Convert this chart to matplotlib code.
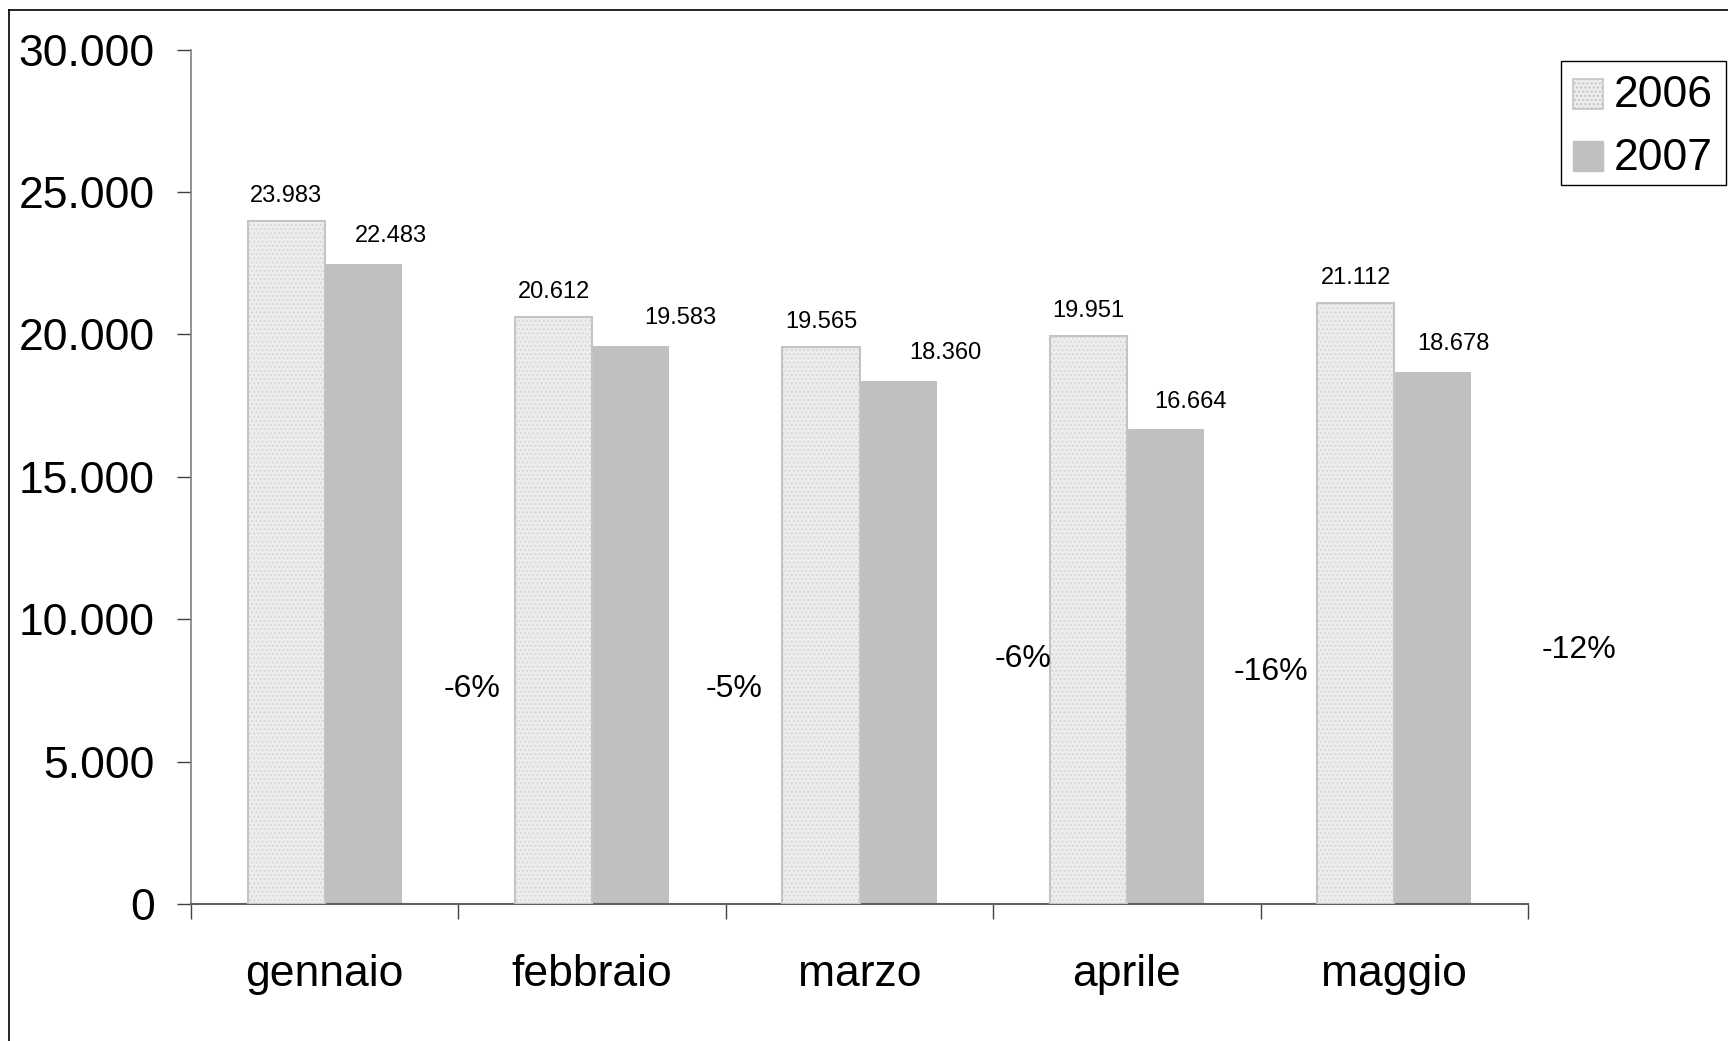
import matplotlib
matplotlib.use("Agg")
import matplotlib.pyplot as plt
from matplotlib.lines import Line2D
from matplotlib.patches import Rectangle
import numpy as np

plt.rcParams['font.family'] = ['Liberation Sans', 'DejaVu Sans']

# ---- data ----
categories = ["gennaio", "febbraio", "marzo", "aprile", "maggio"]
values_2006 = [23983, 20612, 19565, 19951, 21112]
values_2007 = [22483, 19583, 18360, 16664, 18678]
pct_change = [-6, -5, -6, -16, -12]
series_names = ["2006", "2007"]
yticks = [0, 5000, 10000, 15000, 20000, 25000, 30000]

# ---- layout / style ----
W, H, DPI = 1728, 1041, 100
fig = plt.figure(figsize=(W / DPI, H / DPI), dpi=DPI)
ax = fig.add_axes([191 / W, 1 - 904 / H, (1528 - 191) / W, (904 - 49.6) / H])

x = np.arange(len(categories))
bw = 0.288
c06_face = '#ededed'
c06_edge = '#c4c4c4'
c06_hatch = '#d8d8d8'
c07 = '#c0c0c0'

ax.bar(x - bw / 2, values_2006, bw, color=c06_face, edgecolor=c06_hatch,
       hatch='....', linewidth=0, zorder=2)
ax.bar(x - bw / 2, values_2006, bw, facecolor='none', edgecolor=c06_edge,
       linewidth=1.5, zorder=3)
ax.bar(x + bw / 2, values_2007, bw, color=c07, linewidth=0, zorder=2)

ax.set_xlim(-0.5, len(categories) - 0.5)
ax.set_ylim(0, 30000)
ax.set_yticks(yticks)
ax.set_yticklabels([f"{v:,}".replace(",", ".") for v in yticks], fontsize=32)
ax.set_xticks(np.arange(len(categories) + 1) - 0.5)
ax.set_xticklabels([])
ax.set_xticks(x, minor=True)
ax.set_xticklabels(categories, minor=True, fontsize=32)
ax.tick_params(axis='x', which='minor', length=0, pad=36)
ax.tick_params(axis='x', which='major', length=11, width=1, color='#404040', direction='out')
ax.tick_params(axis='y', length=10, width=1, color='#404040', direction='out', pad=16)

for s in ['top', 'right']:
    ax.spines[s].set_visible(False)
ax.spines['left'].set_color('#808080')
ax.spines['bottom'].set_color('#606060')
ax.spines['left'].set_linewidth(1.2)
ax.spines['bottom'].set_linewidth(1.5)

# value labels
off07 = [20, 36, 34, 18, 15]
for i, v in enumerate(values_2006):
    ax.annotate(f"{v:,}".replace(",", "."), (x[i] - bw / 2, v), xytext=(0, 18),
                textcoords='offset points', ha='center', va='center', fontsize=17)
for i, v in enumerate(values_2007):
    ax.annotate(f"{v:,}".replace(",", "."), (x[i] + bw / 2, v), xytext=(off07[i], 20),
                textcoords='offset points', ha='center', va='center', fontsize=17)

# percentage labels
pct_x = [0.55, 1.53, 2.61, 3.54, 4.69]
pct_y = [7560, 7560, 8600, 8130, 8910]
for px, py, p in zip(pct_x, pct_y, pct_change):
    ax.text(px, py, f"{p}%", ha='center', va='center', fontsize=23)

# legend (drawn manually in figure pixel coordinates)
def fx(px):
    return px / W

def fy(py):
    return 1 - py / H

fig.add_artist(Rectangle((fx(1561), fy(185)), (1726 - 1561) / W, (185 - 61) / H,
                         transform=fig.transFigure, facecolor='white',
                         edgecolor='black', linewidth=1.0, zorder=5))
leg_rows = [(79, 109, 107), (141, 171, 170.5)]
leg_styles = [dict(facecolor=c06_face, edgecolor=c06_edge, hatch='....', linewidth=1.2),
              dict(facecolor=c07, edgecolor=c07, linewidth=1.0)]
for name, (top, bot, base), st in zip(series_names, leg_rows, leg_styles):
    fig.add_artist(Rectangle((fx(1573), fy(bot)), 30 / W, (bot - top) / H,
                             transform=fig.transFigure, zorder=6, **st))
    fig.text(fx(1614), fy(base), name, ha='left', va='baseline', fontsize=32, zorder=7)

# outer frame (left & top visible)
fig.add_artist(Line2D([9 / W, 9 / W], [0, 1 - 10 / H], transform=fig.transFigure,
                      color='black', linewidth=1.2))
fig.add_artist(Line2D([9 / W, 1], [1 - 10 / H, 1 - 10 / H], transform=fig.transFigure,
                      color='black', linewidth=1.2))

fig.savefig("out.png", dpi=DPI, facecolor='white')
